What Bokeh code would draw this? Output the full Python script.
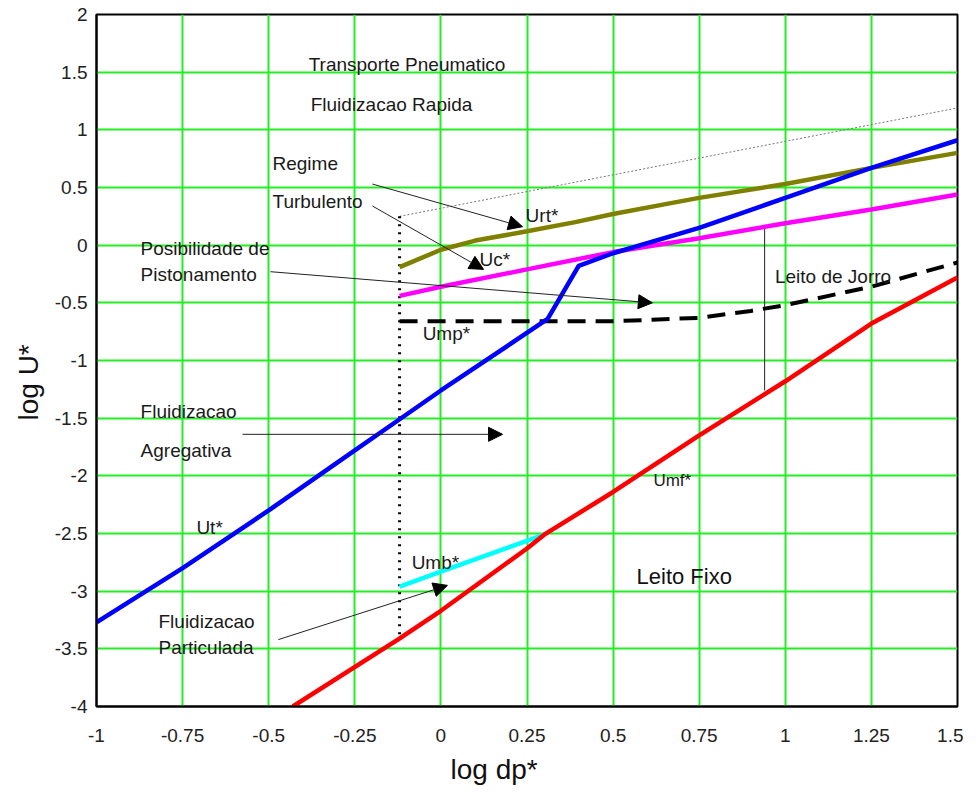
from bokeh.plotting import figure
from bokeh.models import Range1d, FixedTicker, Arrow, NormalHead, ColumnDataSource, Title
from bokeh.embed import file_html
from bokeh.resources import INLINE
from bokeh.core.properties import value

# ---- axes ----
x_ticks = [-1, -0.75, -0.5, -0.25, 0, 0.25, 0.5, 0.75, 1, 1.25, 1.5]
x_tick_labels = ["-1", "-0.75", "-0.5", "-0.25", "0", "0.25", "0.5", "0.75", "1", "1.25", "1.5"]
y_ticks = [-4, -3.5, -3, -2.5, -2, -1.5, -1, -0.5, 0, 0.5, 1, 1.5, 2]
y_tick_labels = ["-4", "-3.5", "-3", "-2.5", "-2", "-1.5", "-1", "-0.5", "0", "0.5", "1", "1.5", "2"]
x_title = "log dp*"
y_title = "log U*"

# ---- curves (log dp*, log U*) ----
ut_x = [-1.0, -0.75, -0.5, -0.25, -0.125, 0.0, 0.31, 0.40, 0.5, 0.75, 1.0, 1.25, 1.5]
ut_y = [-3.27, -2.80, -2.30, -1.78, -1.52, -1.26, -0.64, -0.18, -0.07, 0.15, 0.41, 0.67, 0.91]

urt_x = [-0.12, 0.0, 0.1, 0.25, 0.39, 0.5, 0.66, 0.75, 1.0, 1.25, 1.5]
urt_y = [-0.19, -0.04, 0.04, 0.12, 0.20, 0.27, 0.36, 0.41, 0.53, 0.67, 0.80]

uc_x = [-0.12, 0.0, 0.25, 0.5, 0.75, 1.0, 1.25, 1.5]
uc_y = [-0.44, -0.36, -0.21, -0.06, 0.06, 0.19, 0.31, 0.44]

ump_x = [-0.12, 0.25, 0.5, 0.75, 0.9, 1.0, 1.25, 1.5]
ump_y = [-0.66, -0.66, -0.66, -0.63, -0.57, -0.52, -0.36, -0.15]

umf_x = [-0.43, -0.125, 0.0, 0.25, 0.3, 0.5, 0.75, 1.0, 1.25, 1.5]
umf_y = [-4.0, -3.42, -3.17, -2.63, -2.51, -2.14, -1.65, -1.18, -0.68, -0.28]

umb_x = [-0.12, 0.0, 0.15, 0.3]
umb_y = [-2.96, -2.83, -2.67, -2.51]

upper_x = [-0.12, 1.5]
upper_y = [0.25, 1.19]

divider_x = [-0.12, -0.12]
divider_y = [0.25, -3.42]

jorro_x = [0.94, 0.94]
jorro_y = [0.15, -1.26]

# ---- annotations ----
texts = ["Transporte Pneumatico", "Fluidizacao Rapida", "Regime", "Turbulento",
         "Posibilidade de", "Pistonamento", "Urt*", "Uc*", "Ump*", "Leito de Jorro",
         "Fluidizacao", "Agregativa", "Ut*", "Umf*", "Umb*", "Fluidizacao", "Particulada"]
text_x = [-0.384, -0.378, -0.489, -0.489, -0.872, -0.872, 0.246, 0.112, -0.053, 0.97,
          -0.872, -0.872, -0.71, 0.617, -0.085, -0.82, -0.82]
text_y = [1.57, 1.22, 0.71, 0.38, -0.03, -0.25, 0.26, -0.12, -0.77, -0.27,
          -1.44, -1.78, -2.45, -2.04, -2.75, -3.26, -3.49]
text_size = ["19px"] * 13 + ["17px", "19px", "19px", "19px"]

arrow_x0 = [-0.199, -0.199, -0.495, -0.576, -0.472]
arrow_y0 = [0.53, 0.34, -0.23, -1.64, -3.42]
arrow_x1 = [0.237, 0.124, 0.614, 0.179, 0.019]
arrow_y1 = [0.16, -0.21, -0.50, -1.64, -2.95]

FONT = "Liberation Sans"

p = figure(width=963, height=796, output_backend="svg", toolbar_location=None,
           x_range=Range1d(-1, 1.5), y_range=Range1d(-4, 2),
           min_border_left=96, min_border_right=6, min_border_top=14, min_border_bottom=90)
p.background_fill_color = "white"
p.border_fill_color = "white"
p.outline_line_color = "black"
p.outline_line_width = 2

p.xaxis.ticker = FixedTicker(ticks=x_ticks)
p.yaxis.ticker = FixedTicker(ticks=y_ticks)
p.xaxis.major_label_overrides = {t: l for t, l in zip(x_ticks, x_tick_labels)}
p.yaxis.major_label_overrides = {t: l for t, l in zip(y_ticks, y_tick_labels)}
for ax in (p.xaxis, p.yaxis):
    ax.axis_line_color = "black"
    ax.axis_line_width = 2
    ax.major_tick_line_color = None
    ax.minor_tick_line_color = None
    ax.major_tick_in = 0
    ax.major_tick_out = 0
    ax.minor_tick_in = 0
    ax.minor_tick_out = 0
    ax.major_label_text_font = FONT
    ax.major_label_text_font_size = "19px"
    ax.major_label_text_color = "#222222"
p.xaxis.major_label_standoff = 22
p.yaxis.major_label_standoff = 9

# axis titles, offset along the axis as in the original
p.add_layout(Title(text=x_title, align="left", offset=354, text_font=FONT,
                   text_font_size="28px", text_font_style="normal",
                   text_color="#111111", standoff=14), "below")
p.add_layout(Title(text=y_title, align="left", offset=286, text_font=FONT,
                   text_font_size="28px", text_font_style="normal",
                   text_color="#111111", standoff=16), "left")

p.grid.grid_line_color = "#22ee22"
p.grid.grid_line_width = 2
p.grid.grid_line_alpha = 1

# curves
p.line(upper_x, upper_y, line_color="#777777", line_width=1, line_dash="2 2")
p.line(divider_x, divider_y, line_color="black", line_width=3, line_dash="2 6")
p.line(jorro_x, jorro_y, line_color="#222222", line_width=1)
p.line(urt_x, urt_y, line_color="#808000", line_width=4.5)
p.line(uc_x, uc_y, line_color="#ff00ff", line_width=4.5)
p.line(ump_x, ump_y, line_color="black", line_width=4, line_dash="18 10")
p.line(umb_x, umb_y, line_color="#00ffff", line_width=4.5)
p.line(umf_x, umf_y, line_color="#ff0000", line_width=4.5)
p.line(ut_x, ut_y, line_color="#0000ff", line_width=4.5)

# arrows
asrc = ColumnDataSource(dict(x0=arrow_x0, y0=arrow_y0, x1=arrow_x1, y1=arrow_y1))
p.add_layout(Arrow(source=asrc, x_start="x0", y_start="y0", x_end="x1", y_end="y1",
                   line_color="#222222", line_width=1,
                   end=NormalHead(size=14, fill_color="black", line_color="black")))

# texts
tsrc = ColumnDataSource(dict(x=text_x, y=text_y, t=texts, s=text_size))
p.text(x="x", y="y", text="t", source=tsrc, text_font=value(FONT), text_font_size="s",
       text_baseline="middle", text_align="left", text_color="#1a1a1a")
p.text(x=[0.568], y=[-2.87], text=["Leito Fixo"], text_font=value(FONT),
       text_font_size="22px", text_baseline="middle", text_align="left", text_color="#111111")

open("out.html", "w").write(file_html(p, INLINE))
